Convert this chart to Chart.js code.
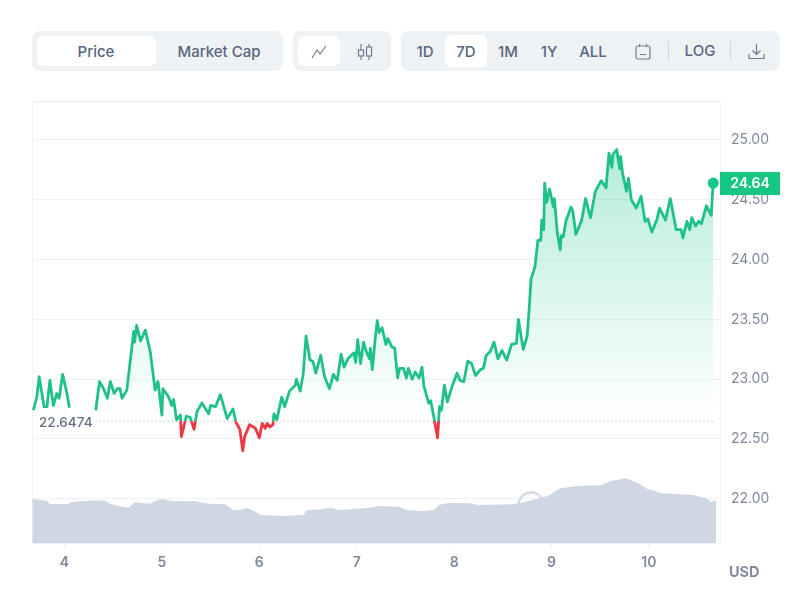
<!DOCTYPE html>
<html>
<head>
<meta charset="utf-8">
<title>Price chart</title>
<script src="https://cdn.jsdelivr.net/npm/chart.js@4/dist/chart.umd.min.js"></script>
<style>
  html, body { margin: 0; padding: 0; background: #fff; }
  body { width: 801px; height: 608px; position: relative; overflow: hidden; font-family: Inter, sans-serif; }
  canvas { position: absolute; left: 0; top: 0; }
  .group { position: absolute; top: 31px; height: 40px; background: #eff2f5; border-radius: 8px; }
  .pill { position: absolute; background: #fff; border-radius: 6px; }
  .lbl { position: absolute; top: 50.5px; transform: translate(-50%, -50%); font-size: 15px; font-weight: 500; color: #58667e; white-space: nowrap; }
  .sep { position: absolute; top: 41px; width: 1px; height: 20px; background: #cfd6e4; }
  svg { position: absolute; fill: none; stroke: #717d92; stroke-width: 1.2; }
</style>
</head>
<body>
<canvas id="chart-price" width="801" height="608"></canvas>

<div class="group" style="left:32px;width:251px"></div>
<div class="pill" style="left:37px;top:36px;width:119px;height:30px"></div>
<span class="lbl" style="left:96px">Price</span>
<span class="lbl" style="left:219px">Market Cap</span>

<div class="group" style="left:293px;width:98px"></div>
<div class="pill" style="left:298px;top:36px;width:42px;height:30px"></div>
<svg style="left:310px;top:44px" width="18" height="16" viewBox="0 0 18 16"><path d="M2 14 L7 6 L10 10 L16 2"/></svg>
<svg style="left:356px;top:43px" width="18" height="18" viewBox="0 0 18 18"><path d="M5 1V17M13 1V17"/><rect x="2.5" y="7" width="5" height="6" fill="#eff2f5"/><rect x="10.5" y="4" width="5" height="9" fill="#eff2f5"/></svg>

<div class="group" style="left:401px;width:379px"></div>
<div class="pill" style="left:445px;top:35px;width:42px;height:32px"></div>
<span class="lbl" style="left:425px">1D</span>
<span class="lbl" style="left:466px">7D</span>
<span class="lbl" style="left:508px">1M</span>
<span class="lbl" style="left:549px">1Y</span>
<span class="lbl" style="left:593px">ALL</span>
<svg style="left:635px;top:43px" width="16" height="17" viewBox="0 0 16 17"><rect x="1" y="3" width="14" height="13" rx="2"/><path d="M4.5 1V4M11.5 1V4M5 11.5H11"/></svg>
<div class="sep" style="left:668px"></div>
<span class="lbl" style="left:700px;top:49.5px">LOG</span>
<div class="sep" style="left:730px"></div>
<svg style="left:748px;top:43px" width="17" height="17" viewBox="0 0 17 17"><path d="M8.5 1V11M4.5 7.5L8.5 11.5L12.5 7.5M1 11V15.5H16V11"/></svg>

<script>
  const basePrice = 22.6474;
  const lastPrice = 24.64;
  const priceLabel = '22.6474';
  const lastLabel = '24.64';
  const unitLabel = 'USD';

  const dayTicks = [4, 5, 6, 7, 8, 9, 10];
  const priceTicks = [22, 22.5, 23, 23.5, 24, 24.5, 25];

  // day of the month (null = hole in the line)
  const priceDays = [
    3.68, 3.715, 3.74, 3.79, 3.82, 3.85, 3.885, 3.92, 3.945, 3.98, 4.02, 4.05, 4.2,
    4.32, 4.36, 4.40, 4.44, 4.47, 4.51, 4.54, 4.57, 4.59, 4.64, 4.71, 4.72, 4.74, 4.78, 4.83, 4.88, 4.93, 4.96,
    5.00, 5.01, 5.07, 5.10, 5.12, 5.15, 5.19, 5.20, 5.25, 5.29, 5.33, 5.36, 5.41, 5.48, 5.50, 5.55, 5.60, 5.67, 5.73, 5.76, 5.80, 5.83, 5.85, 5.90, 5.96,
    6.00, 6.03, 6.06, 6.08, 6.11, 6.14, 6.15, 6.18, 6.23, 6.26, 6.31, 6.37, 6.38, 6.42, 6.45, 6.48, 6.52, 6.55, 6.58, 6.63, 6.67, 6.72, 6.76, 6.80, 6.84, 6.87, 6.91, 6.97, 6.99,
    7.01, 7.04, 7.07, 7.10, 7.13, 7.14, 7.16, 7.19, 7.21, 7.23, 7.26, 7.30, 7.32, 7.36, 7.39, 7.42, 7.44, 7.48, 7.51, 7.53, 7.57, 7.60, 7.64, 7.67, 7.69, 7.74, 7.76, 7.79, 7.83, 7.85, 7.87, 7.90, 7.93, 7.98,
    8.03, 8.06, 8.10, 8.14, 8.18, 8.22, 8.27, 8.30, 8.33, 8.37, 8.41, 8.45, 8.49, 8.54, 8.59, 8.64, 8.66, 8.71, 8.75, 8.77, 8.79, 8.83, 8.86, 8.89, 8.90, 8.92, 8.93, 8.95, 8.98,
    9.02, 9.03, 9.06, 9.09, 9.10, 9.12, 9.15, 9.17, 9.20, 9.22, 9.25, 9.31, 9.35, 9.40, 9.45, 9.51, 9.56, 9.59, 9.62, 9.63, 9.67, 9.70, 9.71, 9.73, 9.77, 9.79, 9.82, 9.87, 9.92, 9.96, 9.99,
    10.03, 10.08, 10.11, 10.17, 10.22, 10.28, 10.33, 10.35, 10.39, 10.42, 10.44, 10.48, 10.51, 10.54, 10.59, 10.64, 10.66,
  ];
  const priceValues = [
    22.74, 22.85, 23.02, 22.77, 22.77, 22.99, 22.78, 22.88, 22.84, 23.04, 22.90, 22.76, null,
    22.74, 22.98, 22.92, 22.84, 22.98, 22.88, 22.92, 22.92, 22.84, 22.91, 23.40, 23.31, 23.45, 23.32, 23.41, 23.23, 22.91, 22.98,
    22.70, 22.92, 22.85, 22.78, 22.83, 22.66, 22.70, 22.52, 22.69, 22.68, 22.58, 22.73, 22.80, 22.71, 22.78, 22.77, 22.87, 22.67, 22.75, 22.64, 22.58, 22.40, 22.52, 22.62, 22.59,
    22.51, 22.63, 22.59, 22.63, 22.60, 22.62, 22.71, 22.66, 22.85, 22.77, 22.90, 22.95, 23.00, 22.90, 23.04, 23.36, 23.16, 23.15, 23.05, 23.20, 23.02, 22.92, 23.04, 22.99, 23.21, 23.10, 23.17, 23.22, 23.14,
    23.33, 23.13, 23.31, 23.23, 23.17, 23.26, 23.08, 23.34, 23.49, 23.39, 23.43, 23.29, 23.34, 23.27, 23.26, 23.01, 23.09, 23.09, 23.01, 23.09, 23.00, 23.06, 23.01, 23.10, 22.94, 22.80, 22.82, 22.69, 22.51, 22.77, 22.74, 22.95, 22.81, 22.94,
    23.05, 22.99, 22.98, 23.15, 23.13, 23.03, 23.08, 23.09, 23.20, 23.23, 23.31, 23.17, 23.24, 23.16, 23.29, 23.30, 23.50, 23.25, 23.36, 23.58, 23.84, 23.94, 24.16, 24.16, 24.33, 24.25, 24.64, 24.48, 24.59,
    24.44, 24.51, 24.22, 24.08, 24.20, 24.19, 24.33, 24.37, 24.44, 24.40, 24.21, 24.33, 24.51, 24.35, 24.57, 24.66, 24.60, 24.89, 24.77, 24.88, 24.92, 24.76, 24.86, 24.72, 24.57, 24.68, 24.50, 24.43, 24.53, 24.32, 24.34,
    24.23, 24.33, 24.43, 24.33, 24.51, 24.25, 24.25, 24.18, 24.32, 24.25, 24.35, 24.28, 24.32, 24.30, 24.45, 24.37, lastPrice,
  ];

  // volume has no axis in the picture, so it is in percent of the panel height
  const volumeDays = [
    3.67, 3.82, 3.85, 4.04, 4.07, 4.18, 4.36, 4.42, 4.47, 4.55, 4.66, 4.72, 4.88, 4.93,
    5.01, 5.10, 5.34, 5.48, 5.65, 5.73, 5.81, 5.87, 5.92,
    6.02, 6.25, 6.45, 6.49, 6.62, 6.74, 6.83,
    7.00, 7.14, 7.22, 7.44, 7.51, 7.67, 7.79, 7.85, 7.94,
    8.16, 8.25, 8.61, 8.71, 8.92, 8.98,
    9.09, 9.26, 9.50, 9.62, 9.77, 9.89, 9.98,
    10.13, 10.45, 10.59, 10.64, 10.69,
  ];
  const volumeValues = [
    9.95, 9.57, 8.82, 8.82, 9.21, 9.50, 9.66, 9.57, 8.82, 8.37, 7.99, 9.21, 8.89, 9.50,
    9.95, 9.50, 9.43, 8.89, 8.76, 7.47, 7.53, 7.92, 7.53,
    6.33, 6.11, 6.33, 7.40, 7.62, 7.92, 7.47,
    7.76, 7.99, 8.37, 8.21, 7.47, 7.24, 7.47, 8.67, 9.05,
    8.98, 8.60, 8.76, 9.21, 10.34, 10.86,
    12.38, 12.90, 13.05, 14.10, 14.64, 13.51, 12.29,
    11.24, 10.86, 10.11, 9.34, 9.73,
  ];

  const baselineDays = [4.32, 10.66];

  const GREEN = '#16c784';
  const LINE_GREEN = '#1fc188';
  const RED = '#ea3943';
  const GRID = '#eff2f5';
  const TICK_TEXT = '#808a9d';
  const font = 'Inter, sans-serif';

  const toPoints = (xs, ys) => xs.map((x, i) => ({ x, y: ys[i] }));

  // Line colour flips at the opening price
  function strokeGradient({ chart }) {
    const area = chart.chartArea;
    if (!area) return LINE_GREEN;
    const baseY = chart.scales.y.getPixelForValue(basePrice);
    const g = chart.ctx.createLinearGradient(0, area.top, 0, area.bottom);
    const stop = (baseY - area.top) / (area.bottom - area.top);
    g.addColorStop(0, LINE_GREEN);
    g.addColorStop(stop, LINE_GREEN);
    g.addColorStop(stop, RED);
    g.addColorStop(1, RED);
    return g;
  }

  function fillGradient({ chart }) {
    const area = chart.chartArea;
    if (!area) return 'transparent';
    const scale = chart.scales.y;
    const top = scale.getPixelForValue(24.95);
    const baseY = scale.getPixelForValue(basePrice);
    const bottom = scale.getPixelForValue(22.4);
    const g = chart.ctx.createLinearGradient(0, top, 0, bottom);
    const stop = (baseY - top) / (bottom - top);
    g.addColorStop(0, 'rgba(22,199,132,0.32)');
    g.addColorStop(stop, 'rgba(22,199,132,0)');
    g.addColorStop(stop, 'rgba(234,57,67,0)');
    g.addColorStop(1, 'rgba(234,57,67,0.14)');
    return g;
  }

  const frameAndWatermark = {
    id: 'frameAndWatermark',
    beforeDatasetsDraw(chart) {
      const { ctx, chartArea: a } = chart;
      ctx.save();
      ctx.strokeStyle = GRID;
      ctx.lineWidth = 1;
      ctx.strokeRect(a.left + 0.5, a.top + 0.5, a.right - a.left, a.bottom - a.top);
      // logo watermark poking out above the volume
      ctx.strokeStyle = '#d5dbe6';
      ctx.lineWidth = 2.5;
      ctx.beginPath();
      ctx.arc(531, 505, 12.5, Math.PI, 2 * Math.PI);
      ctx.stroke();
      ctx.restore();
    },
  };

  const labels = {
    id: 'labels',
    afterDraw(chart) {
      const { ctx, scales } = chart;
      const baseY = scales.y.getPixelForValue(basePrice);
      const lastY = scales.y.getPixelForValue(lastPrice);
      ctx.save();
      ctx.textBaseline = 'middle';

      ctx.font = `500 13.5px ${font}`;
      ctx.fillStyle = '#616e85';
      ctx.fillText(priceLabel, 39, baseY + 2);

      ctx.fillStyle = GREEN;
      ctx.fillRect(720, lastY - 11, 60, 23);
      ctx.font = `600 14px ${font}`;
      ctx.fillStyle = '#fff';
      ctx.textAlign = 'center';
      ctx.fillText(lastLabel, 750, lastY + 0.5);

      ctx.font = `700 14.5px ${font}`;
      ctx.fillStyle = TICK_TEXT;
      ctx.textAlign = 'left';
      ctx.fillText(unitLabel, 729, 572.5);
      ctx.restore();
    },
  };

  new Chart(document.getElementById('chart-price'), {
    type: 'line',
    plugins: [frameAndWatermark, labels],
    data: {
      datasets: [
        {
          label: 'Price',
          data: toPoints(priceDays, priceValues),
          order: 1,
          yAxisID: 'y',
          borderColor: strokeGradient,
          borderWidth: 2.8,
          borderJoinStyle: 'round',
          backgroundColor: fillGradient,
          fill: { target: { value: basePrice } },
          spanGaps: false,
          tension: 0,
          pointRadius: (ctx) => (ctx.dataIndex === priceDays.length - 1 ? 5.5 : 0),
          pointBackgroundColor: GREEN,
          pointBorderWidth: 0,
        },
        {
          label: 'Open',
          data: baselineDays.map((x) => ({ x, y: basePrice })),
          order: 0,
          yAxisID: 'y',
          borderColor: '#a6b0c3',
          borderWidth: 1,
          borderDash: [1, 3],
          pointRadius: 0,
          fill: false,
        },
        {
          label: 'Volume',
          data: toPoints(volumeDays, volumeValues),
          order: 2,
          yAxisID: 'vol',
          borderWidth: 0,
          backgroundColor: '#cfd6e4',
          fill: 'origin',
          tension: 0,
          pointRadius: 0,
        },
      ],
    },
    options: {
      responsive: false,
      animation: false,
      events: [],
      layout: { padding: { left: 32, top: 101, right: 0, bottom: 0 } },
      plugins: { legend: { display: false }, tooltip: { enabled: false } },
      scales: {
        x: {
          type: 'linear',
          min: 3.666,
          max: 10.73,
          afterFit: (axis) => { axis.height = 65; },
          afterBuildTicks: (axis) => { axis.ticks = dayTicks.map((value) => ({ value })); },
          grid: { drawOnChartArea: false, drawTicks: true, tickLength: 5, color: GRID },
          border: { color: GRID },
          ticks: {
            autoSkip: false,
            maxRotation: 0,
            padding: 6,
            color: TICK_TEXT,
            font: { family: font, size: 14, weight: '600' },
            callback: (v) => String(v),
          },
        },
        y: {
          position: 'right',
          min: 21.63,
          max: 25.326,
          afterFit: (axis) => { axis.width = 81; },
          afterBuildTicks: (axis) => { axis.ticks = priceTicks.map((value) => ({ value })); },
          grid: { color: GRID, drawTicks: false },
          border: { color: GRID },
          ticks: {
            padding: 11,
            color: TICK_TEXT,
            font: { family: font, size: 14 },
            callback: (v) => v.toFixed(2),
          },
        },
        vol: { display: false, min: 0, max: 100 },
      },
    },
  });
</script>
</body>
</html>
